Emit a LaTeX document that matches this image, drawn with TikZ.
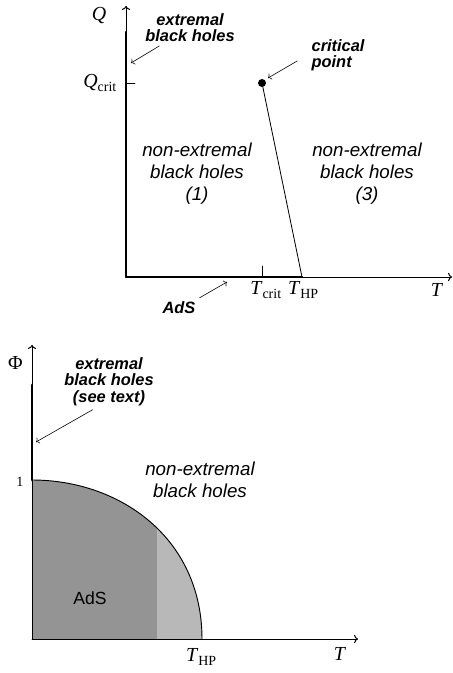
\documentclass[tikz,border=0pt]{standalone}
\usepackage{fontspec}
\setmainfont{Liberation Serif}
\newfontfamily\labelfont{Liberation Sans}
\usetikzlibrary{arrows,calc}
\usepackage{tkz-euclide}

\tikzset{
  region/.style={font=\labelfont\itshape\fontsize{16}{18.5}\selectfont,align=center},
  remark/.style={font=\labelfont\bfseries\itshape\fontsize{14}{14}\selectfont,align=center},
  axlabel/.style={font=\fontsize{17}{17}\selectfont,anchor=base},
  pointer/.style={->,line width=.5pt},
}

\begin{document}
\begin{tikzpicture}[scale=.3]
\useasboundingbox (0,0) rectangle (45.3,67.3);
\tkzSetUpLine[line width=.8pt,color=black]

% upper diagram: (T,Q) plane
\tkzDefPoints{12.6/39.6/O,12.6/66.7/Qm,45.2/39.6/Tm,12.6/64.1/E,30.2/39.6/H,
  26.2/59.0/C,12.6/59.0/Qc,13.5/59.0/Qt,26.2/39.6/Tc,26.2/40.7/Tt}
\tkzDefPoints{13.1/61.0/e1,26.8/59.5/c1,22.7/39.1/s1}

\tkzDrawSegments[->](O,Qm O,Tm)
\tkzDrawSegments(Qc,Qt Tc,Tt)
\tkzDrawSegments[line width=1.7pt](O,E O,H)
\tkzDrawSegments[line width=.7pt](C,H)
\fill (C) circle (.4);

\node[axlabel] (lq) at (9.9,65.2) {\textit{Q}};
\node[axlabel,anchor=base east] (lqc) at (12.1,58.5) {\textit{Q}$_{\mathrm{crit}}$};
\node[axlabel] (ltc) at (26.6,37.8) {\textit{T}$_{\mathrm{crit}}$};
\node[axlabel] (lth) at (30.35,37.8) {\textit{T}$_{\mathrm{HP}}$};
\node[axlabel] (lt) at (43.7,37.6) {\textit{T}};

\node[remark] (ext1) at (19.0,64.55) {extremal\\black holes};
\node[remark,align=left,anchor=west] (crit) at (30.75,61.8) {critical\\point};
\node[region] (nb1) at (19.7,49.95) {non-extremal\\black holes\\(1)};
\node[region] (nb3) at (36.7,49.95) {non-extremal\\black holes\\(3)};
\node[remark] (ads1) at (17.9,36.5) {AdS};

\draw[pointer] (ext1) -- (e1);
\draw[pointer,shorten <=10pt] (crit.west) -- (c1);
\draw[pointer] (ads1.north east) -- (s1);

% lower diagram: (T,Phi) plane
\tkzDefPoints{3.2/3.4/P,3.2/32.8/Pm,35.8/3.4/Sm,3.2/28.8/F,3.2/19.3/U,
  20.2/3.4/K,15.7/3.4/M}
\tkzDefPoints{3.6/23.1/e2}

\begin{scope}
  \clip (P) -- (U) .. controls (12,19.3) and (20.2,13.5) .. (K) -- cycle;
  \fill[black!42] (P) rectangle (15.7,19.3);
  \fill[black!28] (M) rectangle (20.2,19.3);
\end{scope}
\draw[line width=.8pt] (U) .. controls (12,19.3) and (20.2,13.5) .. (K);
\tkzDrawSegments[->](P,Pm P,Sm)
\tkzDrawSegments[line width=2.3pt](U,F)

\node[axlabel] (lphi) at (1.55,30.3) {Φ};
\node[anchor=base,font=\fontsize{12}{12}\selectfont] (lone) at (2.0,18.6) {1};
\node[axlabel] (lth2) at (20.15,1.1) {\textit{T}$_{\mathrm{HP}}$};
\node[axlabel] (lt2) at (34.0,1.3) {\textit{T}};

\node[remark] (ext2) at (10.9,29.15) {extremal\\black holes\\(see text)};
\node[region] (nb) at (20.0,19.3) {non-extremal\\black holes};
\node[font=\labelfont\fontsize{15}{15}\selectfont] (ads2) at (9.0,7.5) {AdS};

\draw[pointer] (ext2.240) -- (e2);
\end{tikzpicture}
\end{document}
